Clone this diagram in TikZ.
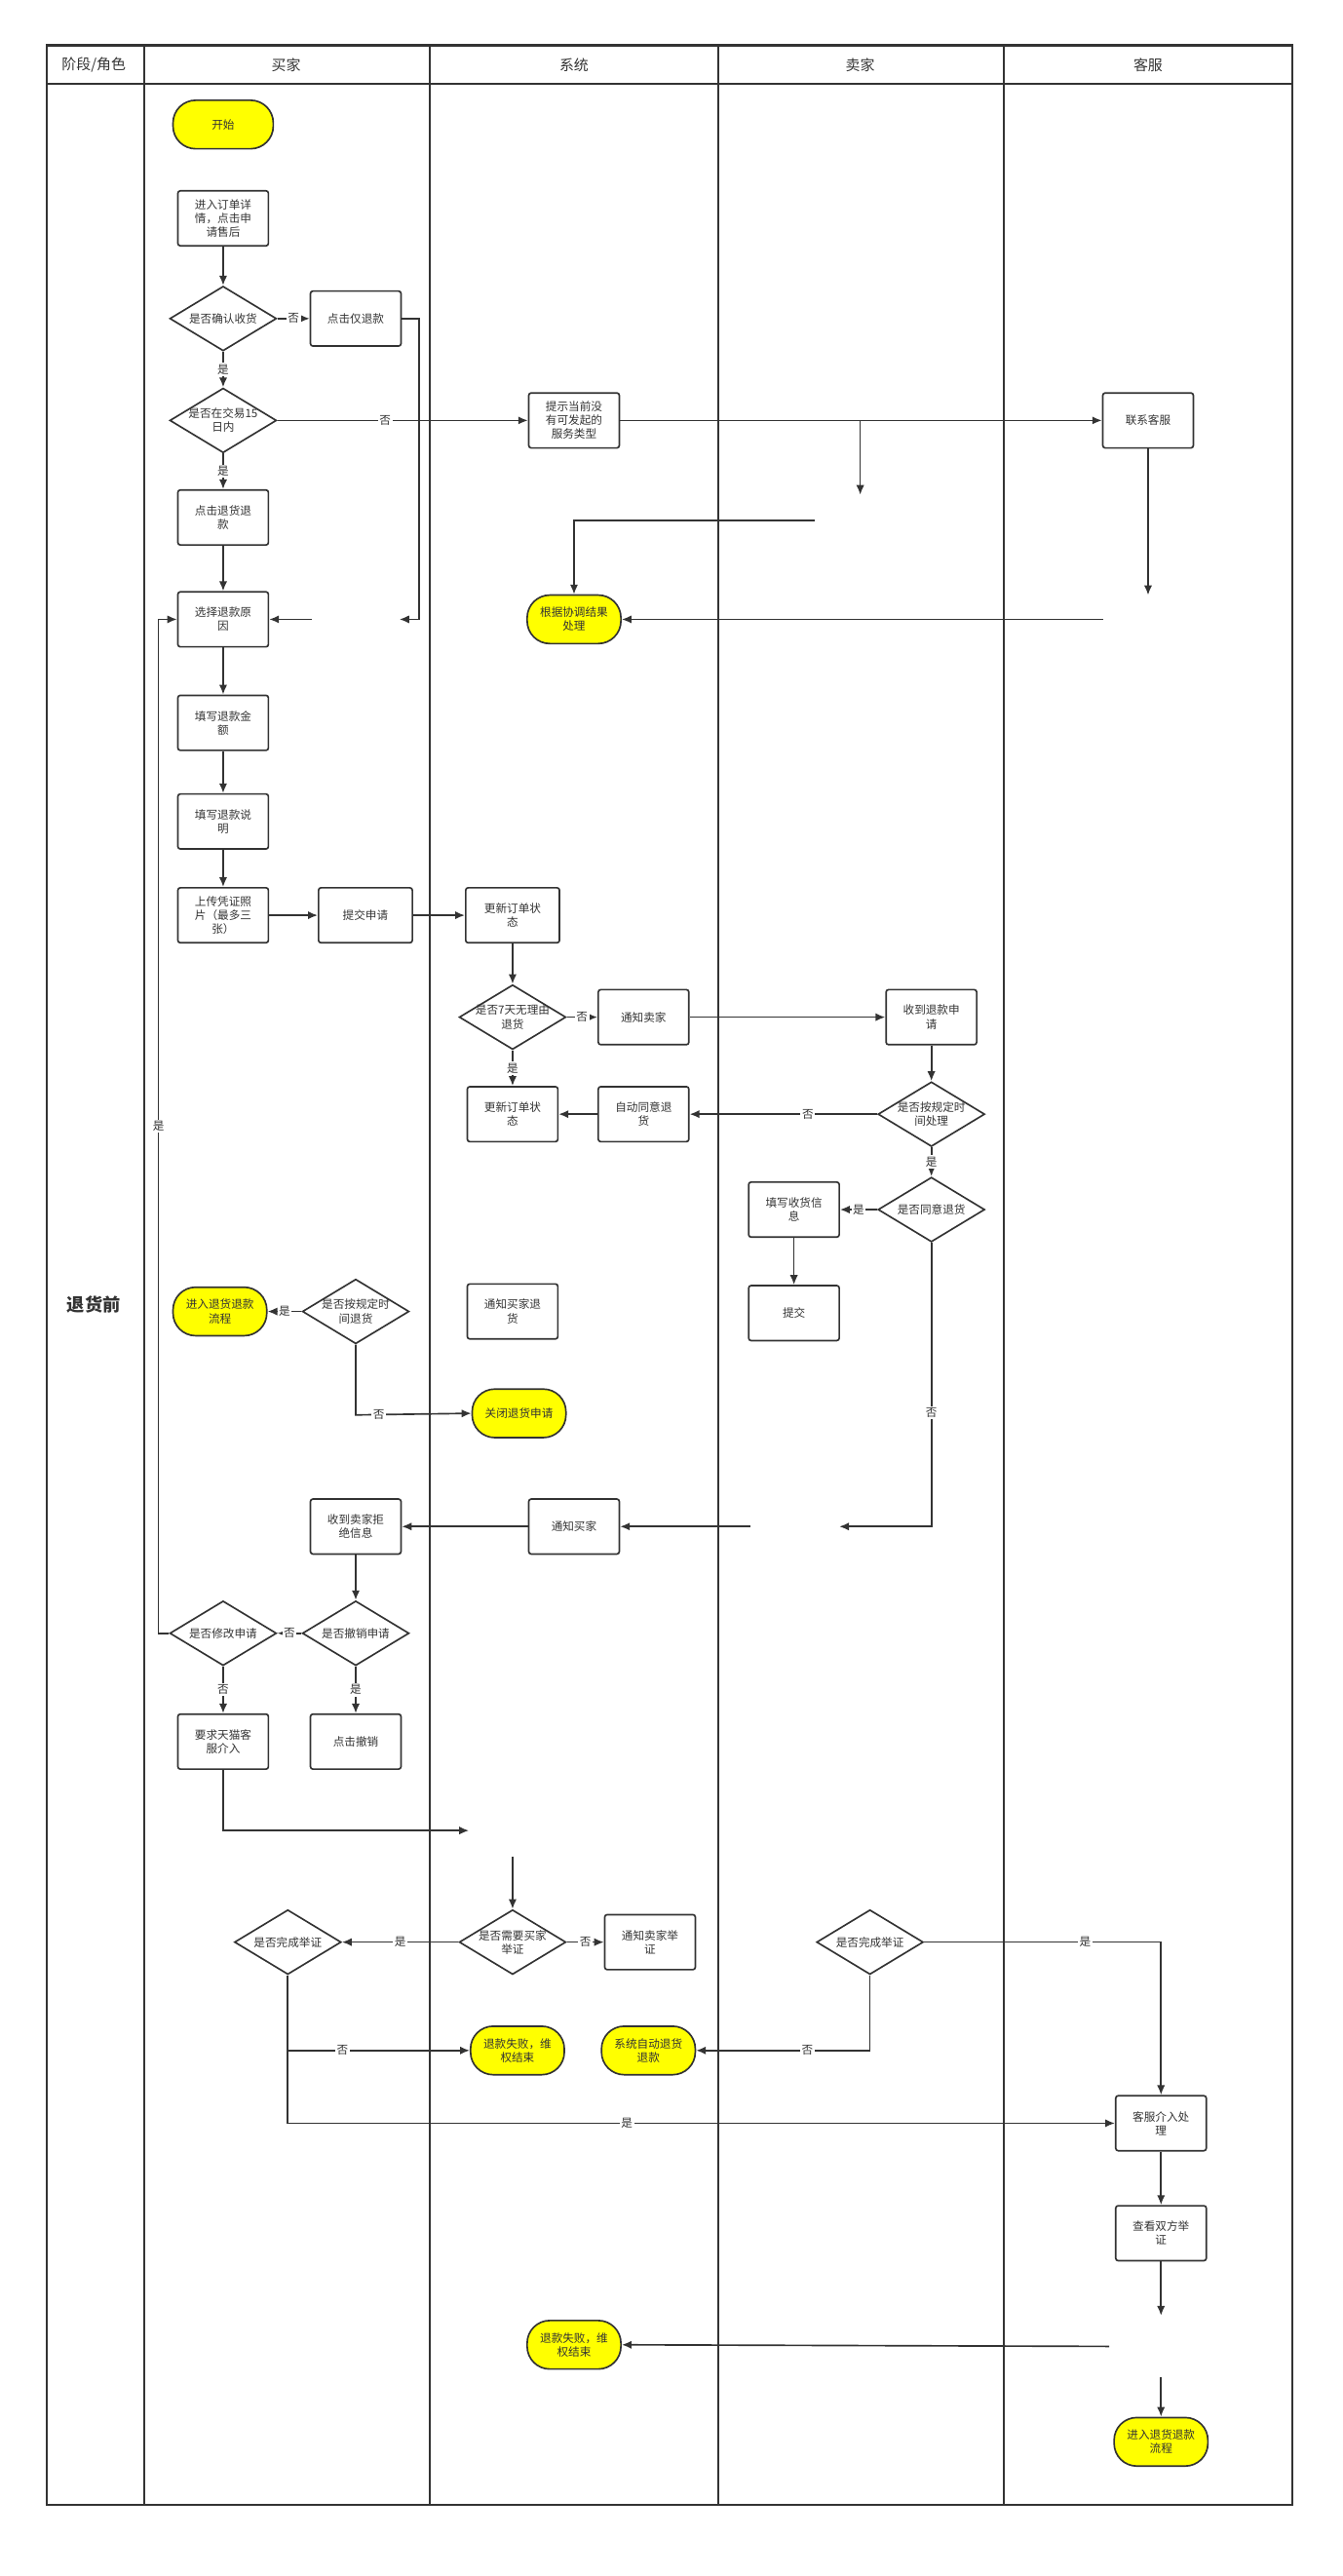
\documentclass[tikz,border=0pt]{standalone}
\usepackage{fontspec}
\setmainfont{Noto Sans CJK SC}
\usetikzlibrary{shapes.geometric,arrows.meta}
\definecolor{ln}{HTML}{333333}
\definecolor{yel}{HTML}{FFFF00}
\begin{document}
\begin{tikzpicture}[x=1pt,y=-1pt,
  every node/.style={font=\fontsize{7}{8.5}\selectfont,text=ln,align=center},
  box/.style={draw=ln,line width=1pt,rounded corners=1.5pt,minimum width=56pt,minimum height=34pt,inner sep=1pt,text width=50pt},
  term/.style={draw=ln,line width=1pt,fill=yel,rounded corners=14pt,minimum width=60pt,minimum height=30pt,inner sep=1pt,text width=54pt},
  dec/.style={draw=ln,line width=1pt,diamond,aspect=1.65,minimum width=66pt,minimum height=40pt,inner xsep=-9pt,inner ysep=-2pt},
  lbl/.style={fill=white,inner sep=1pt,font=\fontsize{7}{8}\selectfont},
  ar/.style={draw=ln,line width=1pt,-{Latex[length=6pt,width=5pt]}},
  lane/.style={draw=ln,line width=1.3pt}]
\useasboundingbox (0,0) rectangle (830,1593);
% lanes
\draw[lane] (29,28) rectangle (799,1549);
\draw[lane] (29,52) -- (799,52);
\foreach \x in {89,266,444,621} \draw[lane] (\x,28) -- (\x,1549);
\node[font=\fontsize{9}{10}\selectfont] (h0) at (58,40) {阶段/角色};
\node[font=\fontsize{9}{10}\selectfont] (h1) at (177,40) {买家};
\node[font=\fontsize{9}{10}\selectfont] (h2) at (355,40) {系统};
\node[font=\fontsize{9}{10}\selectfont] (h3) at (532,40) {卖家};
\node[font=\fontsize{9}{10}\selectfont] (h4) at (710,40) {客服};
\node[font=\bfseries\fontsize{11}{12}\selectfont] (ph) at (58,807) {退货前};
% nodes
\node[term,minimum width=62pt] (start) at (138,77) {开始};
\node[box] (n1) at (138,135) {进入订单详\\情，点击申\\请售后};
\node[dec] (d1) at (138,197) {是否确认收货};
\node[box] (b1) at (220,197) {点击仅退款};
\node[dec] (d2) at (138,260) {是否在交易15\\日内};
\node[box] (s1) at (355,260) {提示当前没\\有可发起的\\服务类型};
\node[box] (k1) at (710,260) {联系客服};
\node[box] (n2) at (138,320) {点击退货退\\款};
\node[box] (n3) at (138,383) {选择退款原\\因};
\node[term,minimum width=58pt] (r1) at (355,383) {根据协调结果\\处理};
\node[box] (n4) at (138,447) {填写退款金\\额};
\node[box] (n5) at (138,508) {填写退款说\\明};
\node[box] (n6) at (138,566) {上传凭证照\\片（最多三\\张）};
\node[box,minimum width=58pt] (n7) at (226,566) {提交申请};
\node[box,minimum width=58pt] (s2) at (317,566) {更新订单状\\态};
\node[dec] (d3) at (317,629) {是否7天无理由\\退货};
\node[box] (s3) at (398,629) {通知卖家};
\node[box] (m1) at (576,629) {收到退款申\\请};
\node[box] (s4) at (317,689) {更新订单状\\态};
\node[box] (s5) at (398,689) {自动同意退\\货};
\node[dec] (d4) at (576,689) {是否按规定时\\间处理};
\node[dec] (d5) at (576,748) {是否同意退货};
\node[box] (m2) at (491,748) {填写收货信\\息};
\node[box] (m3) at (491,812) {提交};
\node[term,minimum width=58pt] (y1) at (136,811) {进入退货退款\\流程};
\node[dec] (d6) at (220,811) {是否按规定时\\间退货};
\node[box] (s6) at (317,811) {通知买家退\\货};
\node[term,minimum width=58pt] (y2) at (321,874) {关闭退货申请};
\node[box] (b2) at (220,944) {收到卖家拒\\绝信息};
\node[box] (s7) at (355,944) {通知买家};
\node[dec] (d7) at (138,1010) {是否修改申请};
\node[dec] (d8) at (220,1010) {是否撤销申请};
\node[box] (b3) at (138,1077) {要求天猫客\\服介入};
\node[box] (b4) at (220,1077) {点击撤销};
\node[dec] (d9) at (317,1201) {是否需要买家\\举证};
\node[box] (s8) at (402,1201) {通知卖家举\\证};
\node[dec] (d10) at (178,1201) {是否完成举证};
\node[dec] (d11) at (538,1201) {是否完成举证};
\node[term,minimum width=58pt] (y3) at (320,1268) {退款失败，维\\权结束};
\node[term,minimum width=58pt] (y4) at (401,1268) {系统自动退货\\退款};
\node[box] (k2) at (718,1313) {客服介入处\\理};
\node[box] (k3) at (718,1381) {查看双方举\\证};
\node[term,minimum width=58pt] (y5) at (355,1450) {退款失败，维\\权结束};
\node[term,minimum width=58pt] (y6) at (718,1510) {进入退货退款\\流程};
% free ends
\coordinate (c1) at (259,383); \coordinate (c1b) at (247,383);
\coordinate (c2) at (193,383);
\coordinate (c3) at (532,260); \coordinate (c3b) at (532,306);
\coordinate (c4) at (504,322); \coordinate (c4b) at (355,322);
\coordinate (c5) at (682,383);
\coordinate (c6) at (710,368);
\coordinate (c7) at (576,944); \coordinate (c7b) at (519,944);
\coordinate (c8) at (464,944);
\coordinate (c9) at (98,1010); \coordinate (c9b) at (98,383);
\coordinate (c10) at (138,1132); \coordinate (c10b) at (290,1132);
\coordinate (c11) at (317,1148);
\coordinate (c12) at (178,1268); \coordinate (c12b) at (178,1313);
\coordinate (c13) at (718,1201);
\coordinate (c14) at (538,1268);
\coordinate (c15) at (718,1432);
\coordinate (c16) at (686,1451);
\coordinate (c17) at (718,1470);
\coordinate (c18) at (220,875);
% edges
\draw[ar] (n1) -- (d1);
\draw[ar] (d1) -- node[lbl]{否} (b1);
\draw[ar] (d1) -- node[lbl]{是} (d2);
\draw[ar] (b1.east) -| (c1) -- (c1b);
\draw[ar] (c2) -- (n3.east);
\draw[ar] (d2) -- node[lbl,pos=0.43]{否} (s1);
\draw[ar] (s1) -- (k1);
\draw[ar] (c3) -- (c3b);
\draw[ar] (c4) -- (c4b) -- (r1.north);
\draw[ar] (c5) -- (r1.east);
\draw[ar] (k1) -- (c6);
\draw[ar] (d2) -- node[lbl]{是} (n2);
\draw[ar] (n2) -- (n3);
\draw[ar] (n3) -- (n4);
\draw[ar] (n4) -- (n5);
\draw[ar] (n5) -- (n6);
\draw[ar] (n6) -- (n7);
\draw[ar] (n7) -- (s2);
\draw[ar] (s2) -- (d3);
\draw[ar] (d3) -- node[lbl]{否} (s3);
\draw[ar] (s3) -- (m1);
\draw[ar] (m1) -- (d4);
\draw[ar] (d4) -- node[lbl,pos=0.37]{否} (s5);
\draw[ar] (s5) -- (s4);
\draw[ar] (d3) -- node[lbl]{是} (s4);
\draw[ar] (d4) -- node[lbl]{是} (d5);
\draw[ar] (d5) -- node[lbl]{是} (m2);
\draw[ar] (m2) -- (m3);
\draw[ar] (d5.south) -- node[lbl,pos=0.6]{否} (c7) -- (c7b);
\draw[ar] (c8) -- (s7);
\draw[ar] (s7) -- (b2);
\draw[ar] (b2) -- (d8);
\draw[ar] (d8) -- node[lbl]{否} (d7);
\draw[ar] (d8) -- node[lbl]{是} (b4);
\draw[ar] (d7) -- node[lbl]{否} (b3);
\draw[ar] (d7.west) -- (c9) -- node[lbl]{是} (c9b) -- (n3.west);
\draw[ar] (d6) -- node[lbl]{是} (y1);
\draw[ar] (d6.south) -- (c18) -- node[lbl,pos=0.2]{否} (y2.west);
\draw[ar] (b3.south) -- (c10) -- (c10b);
\draw[ar] (c11) -- (d9.north);
\draw[ar] (d9) -- node[lbl]{是} (d10);
\draw[ar] (d9) -- node[lbl]{否} (s8);
\draw[ar] (d10.south) -- (c12) -- node[lbl,pos=0.3]{否} (y3.west);
\draw[ar] (c12) -- (c12b) -- node[lbl,pos=0.41]{是} (k2.west);
\draw[ar] (d11.east) -- node[lbl,pos=0.68]{是} (c13) -- (k2.north);
\draw[ar] (d11.south) -- (c14) -- node[lbl,pos=0.36]{否} (y4.east);
\draw[ar] (k2) -- (k3);
\draw[ar] (k3) -- (c15);
\draw[ar] (c16) -- (y5.east);
\draw[ar] (c17) -- (y6.north);
\end{tikzpicture}
\end{document}
